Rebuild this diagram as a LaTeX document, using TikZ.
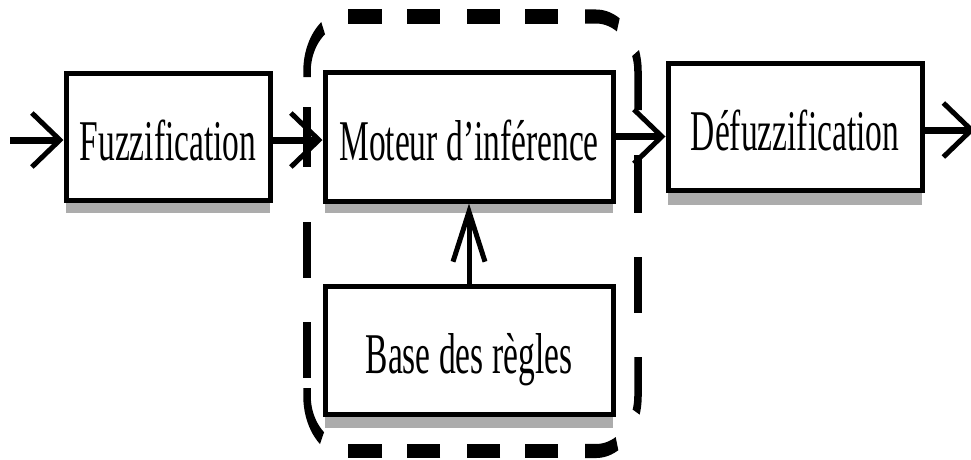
\documentclass[tikz,border=0pt]{standalone}
\usepackage{fontspec}
\setmainfont{Liberation Serif}
\usetikzlibrary{arrows.meta,calc}
% tall, narrow lettering
\newcommand{\tallword}[1]{\scalebox{1}[1.72]{#1}}
\begin{document}
\begin{tikzpicture}[x=1pt,y=-1pt,
  box/.style={draw, line width=5pt, fill=white, inner sep=0pt,
    text height=47pt, text depth=0pt,
    font=\fontsize{33.5}{40}\selectfont},
  shadowband/.style={fill=gray!65, draw=none},
  harr/.style={line width=7pt,
    -{Straight Barb[length=28pt,width=54pt,line width=5pt]}},
  varr/.style={line width=5pt,
    -{Straight Barb[length=50pt,width=32pt,line width=5pt]}},
  frameseg/.style={line width=7.5pt, line join=round}
]
\useasboundingbox (0,0) rectangle (971,459);

% grey bands under the boxes
\fill[shadowband] (66,198) rectangle (270,213);
\fill[shadowband] (325,199) rectangle (613,213);
\fill[shadowband] (325,412) rectangle (613,428);
\fill[shadowband] (668,188) rectangle (922,205);

% blocks
\node[box, minimum width=204pt, minimum height=127pt] (fuzz) at (168,136.5) {\tallword{Fuzzification}};
\node[box, minimum width=288pt, minimum height=129pt] (mot) at (469,136.5) {\tallword{Moteur d’inférence}};
\node[box, minimum width=288pt, minimum height=128pt] (base) at (469,350) {\tallword{Base des règles}};
\node[box, minimum width=254pt, minimum height=127pt] (defuzz) at (795,126.5) {\tallword{Défuzzification}};

% dashed rounded frame around the inference engine and rule base,
% drawn dash by dash on a vertically stretched canvas
\begin{scope}[transform canvas={yscale=1.87}, y=-0.534759pt, frameseg]
  % top side
  \draw (307,77) -- (307,71.5) -- plot[domain=180:128, samples=16] ({349+42*cos(\x)},{71.5-55*sin(\x)});
  \draw (348,16.5) -- (382,16.5);
  \draw (407,16.5) -- (440,16.5);
  \draw (467,16.5) -- (500,16.5);
  \draw (525,16.5) -- (558,16.5);
  \draw (585,16.5) -- (596,16.5) -- plot[domain=90:58, samples=10] ({596+42*cos(\x)},{71.5-55*sin(\x)});
  % right side
  \draw plot[domain=19.6:0, samples=8] ({596+42*cos(\x)},{71.5-55*sin(\x)}) -- (638,110);
  \draw (638,155) -- (638,213);
  \draw (638,257) -- (638,313);
  \draw (638,357) -- (638,396) -- plot[domain=0:-17, samples=6] ({596+42*cos(\x)},{396-55*sin(\x)});
  % bottom side
  \draw plot[domain=-60:-90, samples=10] ({596+42*cos(\x)},{396-55*sin(\x)}) -- (585,451);
  \draw (558,451) -- (525,451);
  \draw (500,451) -- (467,451);
  \draw (440,451) -- (407,451);
  \draw (382,451) -- (348,451);
  \draw plot[domain=230:180, samples=12] ({349+42*cos(\x)},{396-55*sin(\x)}) -- (307,388);
  % left side
  \draw (307,322) -- (307,378);
  \draw (307,222) -- (307,278);
  \draw (307,107) -- (307,167);
\end{scope}

% signal flow
\coordinate (inp) at (10,140);
\coordinate (outp) at (975,130);
\draw[harr] (inp) -- (inp -| fuzz.west);
\draw[harr] (inp -| fuzz.east) -- (inp -| mot.west);
\draw[harr] (mot.east) -- (mot.east -| defuzz.west);
\draw[harr] (outp -| defuzz.east) -- (outp);
\draw[varr] (base.north) -- (mot.south);
\end{tikzpicture}
\end{document}
